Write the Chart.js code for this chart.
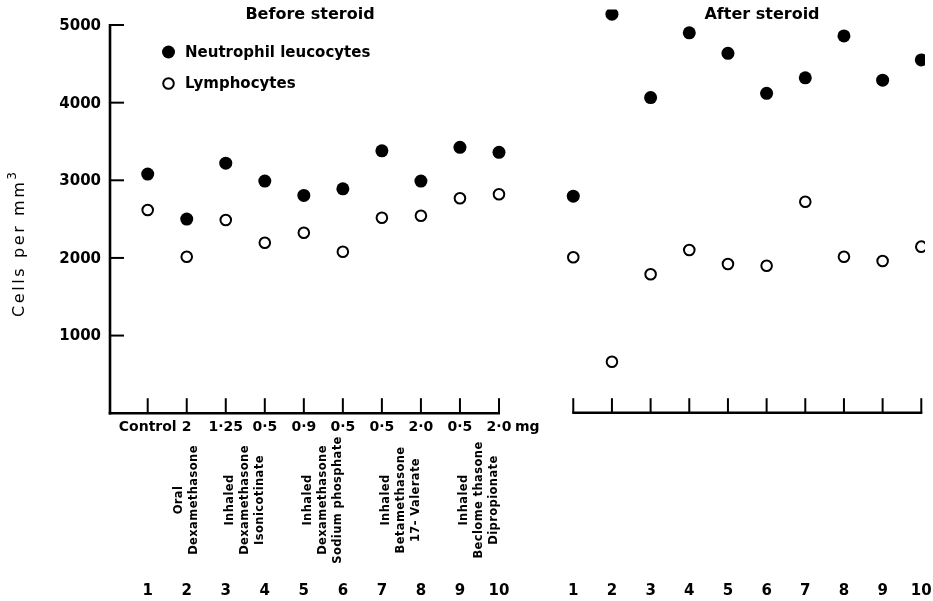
<!DOCTYPE html>
<html>
<head>
<meta charset="utf-8">
<script src="https://cdn.jsdelivr.net/npm/chart.js@4/dist/chart.umd.min.js"></script>
<style>
html,body{margin:0;padding:0;background:#fff;}
#wrap{width:933px;height:601px;position:relative;}
canvas{display:block;}
</style>
</head>
<body>
<div id="wrap"><canvas id="c" width="933" height="601"></canvas></div>
<script>
// ---- data ----
const subjects = [1, 2, 3, 4, 5, 6, 7, 8, 9, 10];
const neutrophilBefore = [3080, 2500, 3220, 2990, 2805, 2890, 3380, 2990, 3425, 3360];
const neutrophilAfter  = [2795, 5140, 4065, 4900, 4635, 4120, 4320, 4860, 4290, 4550];
const lymphocyteBefore = [2617, 2016, 2488, 2196, 2325, 2080, 2518, 2544, 2768, 2820];
const lymphocyteAfter  = [2008, 663, 1789, 2102, 1922, 1900, 2724, 2016, 1960, 2145];
const yTicks = [1000, 2000, 3000, 4000, 5000];
const doseLabels = ['Control', '2', '1\u00B725', '0\u00B75', '0\u00B79', '0\u00B75', '0\u00B75', '2\u00B70', '0\u00B75', '2\u00B70'];
const doseUnit = 'mg';
const drugGroupAt = [2, 3.5, 5.5, 7.5, 9.5];
const drugGroupLines = [
  ['Oral', 'Dexamethasone'],
  ['Inhaled', 'Dexamethasone', 'Isonicotinate'],
  ['Inhaled', 'Dexamethasone', 'Sodium phosphate'],
  ['Inhaled', 'Betamethasone', '17- Valerate'],
  ['Inhaled', 'Beclome thasone', 'Dipropionate']
];
const panelTitles = ['Before steroid', 'After steroid'];
const seriesNames = ['Neutrophil leucocytes', 'Lymphocytes'];
const yTitle = 'Cells per mm';

const pts = (xs, ys) => xs.map((x, i) => ({x: x, y: ys[i]}));
const FONT = '"DejaVu Sans", sans-serif';

const filledStyle = {pointRadius: 6.5, pointHoverRadius: 6.5, pointBackgroundColor: '#000', pointBorderColor: '#000', pointBorderWidth: 0, showLine: false};
const openStyle = {pointRadius: 5.3, pointHoverRadius: 5.3, pointBackgroundColor: '#fff', pointBorderColor: '#000', pointBorderWidth: 2, showLine: false};

const decor = {
  id: 'decor',
  afterDatasetsDraw(chart) {
    const ctx = chart.ctx;
    const xL = chart.scales.xL, xR = chart.scales.xR, y = chart.scales.y;
    const ca = chart.chartArea;
    const y0 = y.getPixelForValue(0);
    ctx.save();
    ctx.strokeStyle = '#000';
    ctx.fillStyle = '#000';
    ctx.lineCap = 'butt';
    // y axis
    ctx.lineWidth = 2.6;
    ctx.beginPath();
    ctx.moveTo(ca.left, y.getPixelForValue(5000) - 1);
    ctx.lineTo(ca.left, y0 + 1.3);
    ctx.stroke();
    ctx.lineWidth = 2;
    yTicks.forEach(v => {
      const p = y.getPixelForValue(v);
      ctx.beginPath(); ctx.moveTo(ca.left, p); ctx.lineTo(ca.left + 14, p); ctx.stroke();
    });
    // left x axis
    ctx.lineWidth = 2.6;
    ctx.beginPath();
    ctx.moveTo(ca.left - 1.3, y0);
    ctx.lineTo(xL.getPixelForValue(10) + 1, y0);
    ctx.stroke();
    ctx.lineWidth = 2;
    subjects.forEach(s => {
      const p = xL.getPixelForValue(s);
      ctx.beginPath(); ctx.moveTo(p, y0); ctx.lineTo(p, y0 - 15); ctx.stroke();
    });
    // right x axis
    ctx.lineWidth = 2.4;
    ctx.beginPath();
    ctx.moveTo(xR.getPixelForValue(1) - 1, y0 - 0.5);
    ctx.lineTo(xR.getPixelForValue(10) + 1, y0 - 0.5);
    ctx.stroke();
    ctx.lineWidth = 2;
    subjects.forEach(s => {
      const p = xR.getPixelForValue(s);
      ctx.beginPath(); ctx.moveTo(p, y0); ctx.lineTo(p, y0 - 15); ctx.stroke();
    });

    // y tick labels
    ctx.font = 'bold 15px ' + FONT;
    ctx.textAlign = 'right';
    ctx.textBaseline = 'middle';
    yTicks.forEach(v => ctx.fillText(String(v), ca.left - 9, y.getPixelForValue(v) + 1));

    // y title
    ctx.save();
    ctx.translate(20, 317);
    ctx.rotate(-Math.PI / 2);
    ctx.font = '16px ' + FONT;
    ctx.letterSpacing = '2.6px';
    ctx.textAlign = 'left';
    ctx.textBaseline = 'middle';
    ctx.fillText(yTitle, 0, 0);
    const w = ctx.measureText(yTitle).width;
    ctx.font = '12px ' + FONT;
    ctx.fillText('3', w, -7);
    ctx.restore();

    // panel titles
    ctx.font = 'bold 16px ' + FONT;
    ctx.textAlign = 'center';
    ctx.textBaseline = 'middle';
    ctx.fillText(panelTitles[0], 310, 15);
    ctx.fillText(panelTitles[1], 762, 15);

    // legend
    ctx.font = 'bold 15px ' + FONT;
    ctx.beginPath(); ctx.arc(168.5, 52, 6.5, 0, Math.PI * 2); ctx.fill();
    ctx.lineWidth = 2;
    ctx.beginPath(); ctx.arc(168.5, 83.5, 5.3, 0, Math.PI * 2); ctx.stroke();
    ctx.textAlign = 'left';
    ctx.fillText(seriesNames[0], 185, 53);
    ctx.fillText(seriesNames[1], 185, 84);

    // dose labels
    ctx.font = 'bold 14px ' + FONT;
    ctx.textAlign = 'center';
    doseLabels.forEach((t, i) => ctx.fillText(t, xL.getPixelForValue(subjects[i]), 427));
    ctx.textAlign = 'left';
    ctx.fillText(doseUnit, xL.getPixelForValue(10) + 16, 427);

    // drug group labels (rotated)
    ctx.font = 'bold 11.5px ' + FONT;
    ctx.letterSpacing = '0.4px';
    ctx.textAlign = 'center';
    ctx.textBaseline = 'middle';
    drugGroupAt.forEach((g, gi) => {
      const lines = drugGroupLines[gi];
      const cx = xL.getPixelForValue(g);
      lines.forEach((t, li) => {
        const x = cx + (li - (lines.length - 1) / 2) * 15;
        ctx.save();
        ctx.translate(x, 500);
        ctx.rotate(-Math.PI / 2);
        ctx.fillText(t, 0, 0);
        ctx.restore();
      });
    });
    ctx.letterSpacing = '0px';

    // subject numbers
    ctx.font = 'bold 15px ' + FONT;
    ctx.textAlign = 'center';
    subjects.forEach(s => {
      ctx.fillText(String(s), xL.getPixelForValue(s), 591);
      ctx.fillText(String(s), xR.getPixelForValue(s), 591);
    });
    ctx.restore();
  }
};

new Chart(document.getElementById('c'), {
  type: 'scatter',
  data: {
    datasets: [
      Object.assign({label: seriesNames[0], data: pts(subjects, neutrophilBefore), xAxisID: 'xL'}, filledStyle),
      Object.assign({label: seriesNames[0], data: pts(subjects, neutrophilAfter), xAxisID: 'xR'}, filledStyle),
      Object.assign({label: seriesNames[1], data: pts(subjects, lymphocyteBefore), xAxisID: 'xL'}, openStyle),
      Object.assign({label: seriesNames[1], data: pts(subjects, lymphocyteAfter), xAxisID: 'xR'}, openStyle)
    ]
  },
  options: {
    responsive: false,
    animation: false,
    events: [],
    layout: {padding: {left: 110, right: 8, top: 9.5, bottom: 187.8}},
    plugins: {legend: {display: false}, tooltip: {enabled: false}},
    scales: {
      xL: {type: 'linear', display: false, min: 0.034, max: 20.915},
      xR: {type: 'linear', display: false, min: -10.981, max: 10.096},
      y: {type: 'linear', display: false, min: 0, max: 5200}
    }
  },
  plugins: [decor]
});
</script>
</body>
</html>
